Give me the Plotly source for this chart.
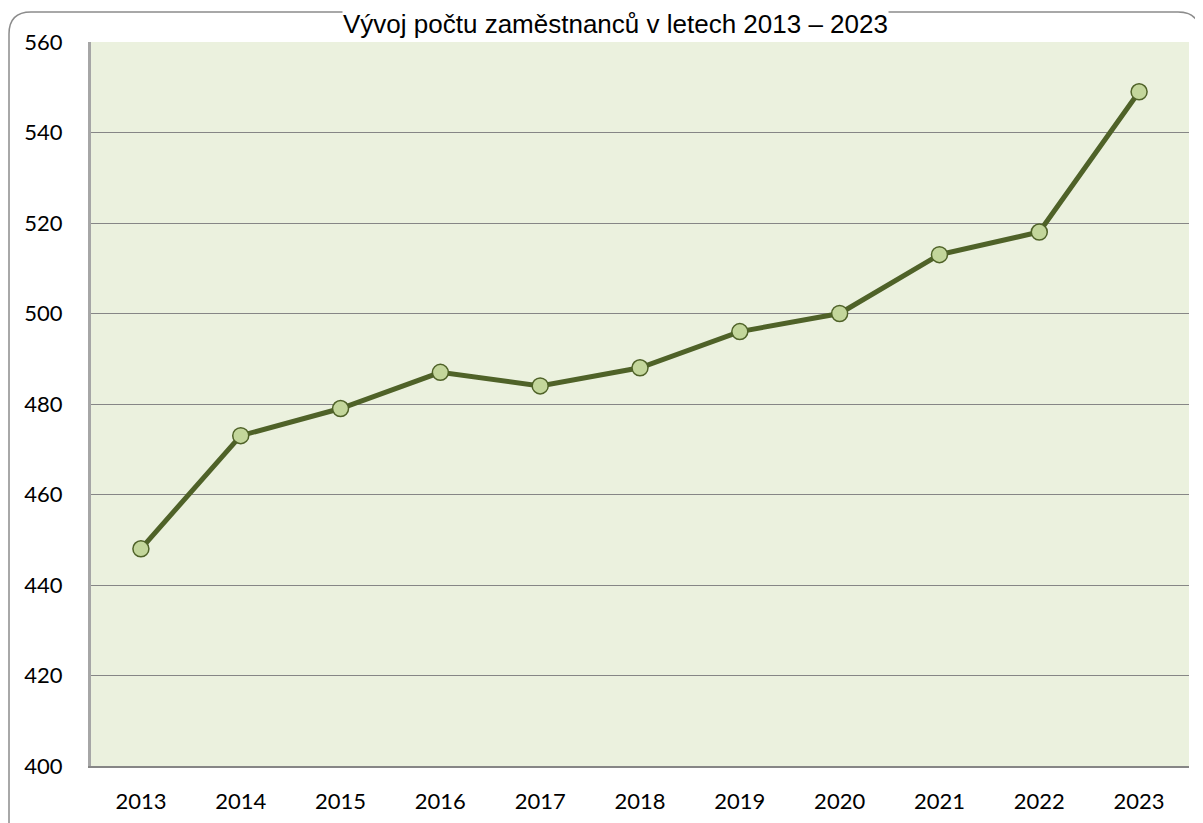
import plotly.graph_objects as go

years = ["2013", "2014", "2015", "2016", "2017", "2018", "2019", "2020", "2021", "2022", "2023"]
employees = [448, 473, 479, 487, 484, 488, 496, 500, 513, 518, 549]
y_ticks = [400, 420, 440, 460, 480, 500, 520, 540, 560]
title_text = "Vývoj počtu zaměstnanců v letech 2013 – 2023"

W, H = 1203, 823
ml, mr, mt, mb = 83, 22, 34, 65
pw, ph = W - ml - mr, H - mt - mb

def px(x):
    return (x - ml) / pw

def py(y):
    return (H - mb - y) / ph

fig = go.Figure()
fig.add_trace(go.Scatter(
    x=years, y=employees, mode="lines+markers",
    line=dict(color="#4f6228", width=5),
    marker=dict(size=16, color="#c3d69b", line=dict(color="#4f6228", width=1.5)),
    showlegend=False,
))

# rounded outer border
x0, x1, y0, y1, r = 1, 1192, 4, 840, 22
path = (f"M {px(x0)},{py(y1)} L {px(x0)},{py(y0 + r)} "
        f"Q {px(x0)},{py(y0)} {px(x0 + r)},{py(y0)} "
        f"L {px(x1 - r)},{py(y0)} Q {px(x1)},{py(y0)} {px(x1)},{py(y0 + r)} "
        f"L {px(x1)},{py(y1)}")
fig.add_shape(type="path", xref="paper", yref="paper", path=path,
              line=dict(color="#8c8c8c", width=1.5), layer="below")

fig.add_annotation(text=title_text, xref="paper", yref="paper",
                   x=px(607), y=py(0), xanchor="center", yanchor="top",
                   showarrow=False, bgcolor="white", borderpad=0,
                   font=dict(family="Liberation Sans, Arial", size=26, color="#000000"))

fig.update_layout(
    width=W, height=H,
    margin=dict(l=ml, r=mr, t=mt, b=mb),
    paper_bgcolor="white",
    plot_bgcolor="#ebf1de",
    font=dict(family="Lato, Calibri, sans-serif", size=22, color="#000000"),
)
fig.update_xaxes(type="category", range=[-0.5, 10.5], showgrid=False,
                 showline=True, linecolor="#868686", linewidth=1.5,
                 ticks="", ticklabelstandoff=15, tickfont=dict(size=22))
fig.update_yaxes(range=[400, 560], tickvals=y_ticks, showgrid=True,
                 gridcolor="#868686", gridwidth=1.2,
                 showline=True, linecolor="#a6a6a6", linewidth=3,
                 zeroline=False, ticks="", ticklabelstandoff=21, tickfont=dict(size=22))

fig.write_html("out.html")
